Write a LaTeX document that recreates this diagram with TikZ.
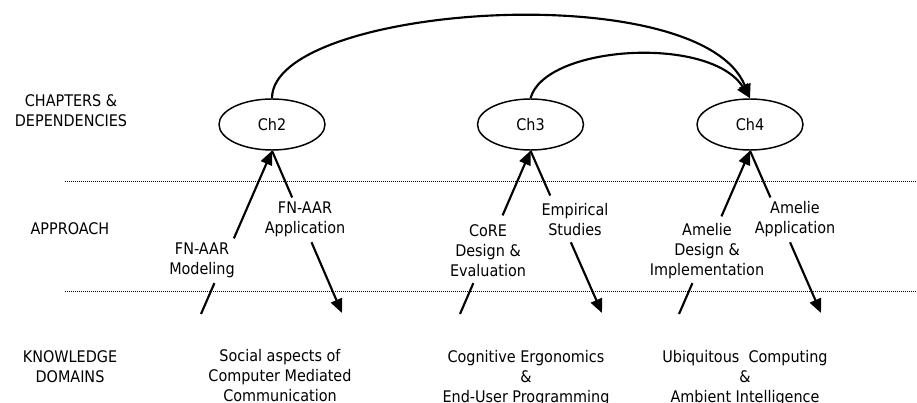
\documentclass[tikz,border=0pt]{standalone}
\usepackage{fontspec}
\setmainfont{DejaVu Sans Condensed}
\usetikzlibrary{shapes.geometric,arrows.meta,calc}
\begin{document}
\begin{tikzpicture}[x=0.75pt,y=-0.75pt,
  chapter/.style={ellipse,draw,line width=1.1pt,minimum width=79.5pt,minimum height=38.25pt,inner sep=0pt,font=\fontsize{12}{15}\selectfont},
  txt/.style={align=center,inner sep=0pt,font=\fontsize{12}{15}\selectfont},
  link/.style={line width=1.6pt},
  tip/.style={-{Triangle[length=10.5pt,width=9pt]}},
  sep/.style={line width=0.75pt,dash pattern=on 0.75pt off 0.75pt}]
\useasboundingbox (0,0) rectangle (917,403);

% row headings
\node[txt] (hdep) at (71,110.5) {CHAPTERS \&\\DEPENDENCIES};
\node[txt] (happ) at (70,228.5) {APPROACH};
\node[txt] (hdom) at (70,366.5) {KNOWLEDGE\\DOMAINS};

% row separators
\draw[sep] (65,181) -- (917,181);
\draw[sep] (65,291) -- (917,291);

% chapters
\node[chapter] (ch2) at (272,124.5) {Ch2};
\node[chapter] (ch3) at (530.5,124.5) {Ch3};
\node[chapter] (ch4) at (750,124.5) {Ch4};

% dependencies
\draw[link,tip] (ch2.north) .. controls (272,5) and (700,-25) .. (ch4.north);
\draw[link,tip] (ch3.north) .. controls (545,45) and (710,35) .. (ch4.north);

% knowledge domains
\node[txt] (dsoc) at (280,376) {Social aspects of\\Computer Mediated\\Communication};
\node[txt] (dcog) at (526,378) {Cognitive Ergonomics\\\&\\End-User Programming};
\node[txt] (dubi) at (745,378) {Ubiquitous~~Computing\\\&\\Ambient Intelligence};

% approach labels
\node[txt] (lfnm) at (202,260.5) {FN-AAR\\Modeling};
\node[txt] (lfna) at (305,219.5) {FN-AAR\\Application};
\node[txt] (lcor) at (488,251) {CoRE\\Design \&\\Evaluation};
\node[txt] (lemp) at (575,219.5) {Empirical\\Studies};
\node[txt] (lame) at (707,251) {Amelie\\Design \&\\Implementation};
\node[txt] (lapp) at (795,219.5) {Amelie\\Application};

% arrow ends in the domain row
\coordinate (u2) at (201,314);
\coordinate (u3) at (460,314);
\coordinate (u4) at (679,314);
\coordinate (v2) at (342,313);
\coordinate (v3) at (602,313);
\coordinate (v4) at (821,313);

% approach arrows, broken where their labels sit
\draw[link] (u2) -- ($(u2)!0.189!(ch2.south)$);
\draw[link,tip] ($(u2)!0.463!(ch2.south)$) -- (ch2.south);
\draw[link] (ch2.south) -- ($(ch2.south)!0.288!(v2)$);
\draw[link,tip] ($(ch2.south)!0.564!(v2)$) -- (v2);

\draw[link] (u3) -- ($(u3)!0.189!(ch3.south)$);
\draw[link,tip] ($(u3)!0.604!(ch3.south)$) -- (ch3.south);
\draw[link] (ch3.south) -- ($(ch3.south)!0.276!(v3)$);
\draw[link,tip] ($(ch3.south)!0.564!(v3)$) -- (v3);

\draw[link] (u4) -- ($(u4)!0.189!(ch4.south)$);
\draw[link,tip] ($(u4)!0.598!(ch4.south)$) -- (ch4.south);
\draw[link] (ch4.south) -- ($(ch4.south)!0.288!(v4)$);
\draw[link,tip] ($(ch4.south)!0.564!(v4)$) -- (v4);
\end{tikzpicture}
\end{document}
